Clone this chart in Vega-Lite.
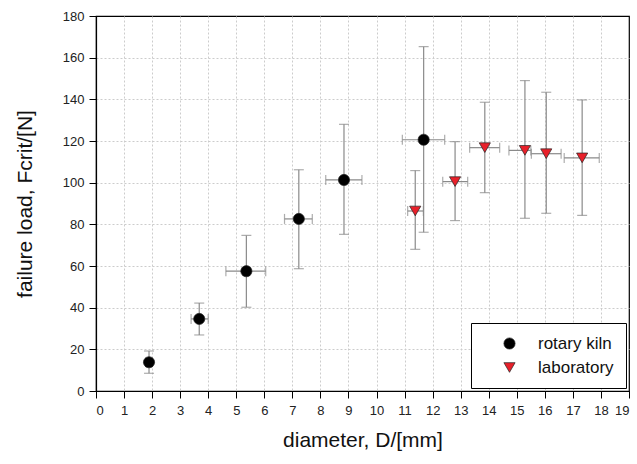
{
  "$schema": "https://vega.github.io/schema/vega-lite/v6.json",
  "autosize": {"type": "none"},
  "padding": {"left": 96, "top": 16, "right": 8, "bottom": 73},
  "width": 533,
  "height": 375,
  "background": "white",
  "config": {
    "view": {"stroke": "black", "strokeWidth": 1.2},
    "font": "Liberation Sans",
    "axis": {
      "labelFont": "Liberation Sans",
      "titleFont": "Liberation Sans",
      "labelFontSize": 13,
      "labelColor": "#222",
      "titleColor": "#111",
      "titleFontWeight": "normal",
      "titleFontSize": 21,
      "domainColor": "black",
      "domainWidth": 1.2,
      "tickColor": "black",
      "tickSize": 7,
      "gridColor": "#cccccc",
      "gridDash": [2, 2],
      "gridWidth": 1
    },
    "legend": {
      "labelFont": "Liberation Sans",
      "labelFontSize": 17,
      "labelColor": "#111"
    }
  },
  "data": {
    "values": [
      {"group": "rotary kiln", "D": 1.89, "F": 13.8, "Dlo": 1.78, "Dhi": 2.0, "Flo": 8.5, "Fhi": 19.2},
      {"group": "rotary kiln", "D": 3.68, "F": 34.6, "Dlo": 3.39, "Dhi": 4.0, "Flo": 26.9, "Fhi": 42.2},
      {"group": "rotary kiln", "D": 5.36, "F": 57.5, "Dlo": 4.63, "Dhi": 6.05, "Flo": 40.2, "Fhi": 74.7},
      {"group": "rotary kiln", "D": 7.23, "F": 82.6, "Dlo": 6.72, "Dhi": 7.71, "Flo": 58.7, "Fhi": 106.2},
      {"group": "rotary kiln", "D": 8.84, "F": 101.3, "Dlo": 8.19, "Dhi": 9.48, "Flo": 75.2, "Fhi": 128},
      {"group": "rotary kiln", "D": 11.68, "F": 120.6, "Dlo": 10.92, "Dhi": 12.43, "Flo": 76.2, "Fhi": 165.3},
      {"group": "laboratory", "D": 11.38, "F": 86.4, "Dlo": 11.11, "Dhi": 11.67, "Flo": 68, "Fhi": 105.8},
      {"group": "laboratory", "D": 12.8, "F": 100.5, "Dlo": 12.36, "Dhi": 13.25, "Flo": 81.8, "Fhi": 119.7},
      {"group": "laboratory", "D": 13.86, "F": 116.8, "Dlo": 13.32, "Dhi": 14.39, "Flo": 95.2, "Fhi": 138.6},
      {"group": "laboratory", "D": 15.29, "F": 115.5, "Dlo": 14.72, "Dhi": 15.5, "Flo": 82.9, "Fhi": 149},
      {"group": "laboratory", "D": 16.05, "F": 113.9, "Dlo": 15.52, "Dhi": 16.58, "Flo": 85.3, "Fhi": 143.4},
      {"group": "laboratory", "D": 17.33, "F": 111.9, "Dlo": 16.69, "Dhi": 17.94, "Flo": 84.3, "Fhi": 139.7}
    ]
  },
  "encoding": {
    "x": {
      "field": "D", "type": "quantitative",
      "scale": {"domain": [0, 19], "nice": false, "zero": false},
      "axis": {
        "title": "diameter, D/[mm]",
        "values": [0,1,2,3,4,5,6,7,8,9,10,11,12,13,14,15,16,17,18,19],
        "labelPadding": 6,
        "titlePadding": 12,
        "grid": true,
        "gridOpacity": {"condition": {"test": "datum.value <= 0 || datum.value >= 19", "value": 0}, "value": 1}
      }
    },
    "y": {
      "field": "F", "type": "quantitative",
      "scale": {"domain": [0, 180], "nice": false},
      "axis": {
        "title": "failure load, Fcrit/[N]",
        "values": [0,20,40,60,80,100,120,140,160,180],
        "labelPadding": 5,
        "titlePadding": 27,
        "grid": true,
        "gridOpacity": {"condition": {"test": "datum.value <= 0 || datum.value >= 180", "value": 0}, "value": 1}
      }
    }
  },
  "layer": [
    {
      "mark": {"type": "rule", "color": "#8a8a8a", "strokeWidth": 1.2},
      "encoding": {"y": {"field": "Flo", "type": "quantitative"}, "y2": {"field": "Fhi"}}
    },
    {
      "mark": {"type": "rule", "color": "#8a8a8a", "strokeWidth": 1.2},
      "encoding": {"x": {"field": "Dlo", "type": "quantitative"}, "x2": {"field": "Dhi"}}
    },
    {
      "mark": {"type": "tick", "orient": "horizontal", "color": "#8a8a8a", "size": 10, "thickness": 1.2},
      "encoding": {"y": {"field": "Flo", "type": "quantitative"}}
    },
    {
      "mark": {"type": "tick", "orient": "horizontal", "color": "#8a8a8a", "size": 10, "thickness": 1.2},
      "encoding": {"y": {"field": "Fhi", "type": "quantitative"}}
    },
    {
      "mark": {"type": "tick", "orient": "vertical", "color": "#8a8a8a", "size": 10, "thickness": 1.2},
      "encoding": {"x": {"field": "Dlo", "type": "quantitative"}}
    },
    {
      "mark": {"type": "tick", "orient": "vertical", "color": "#8a8a8a", "size": 10, "thickness": 1.2},
      "encoding": {"x": {"field": "Dhi", "type": "quantitative"}}
    },
    {
      "mark": {"type": "point", "filled": true, "opacity": 1, "size": 125, "stroke": "#222", "strokeWidth": 0.7},
      "encoding": {
        "fill": {
          "field": "group", "type": "nominal",
          "scale": {"domain": ["rotary kiln", "laboratory"], "range": ["#000000", "#e8202a"]},
          "legend": {
            "title": null,
            "orient": "bottom-right",
            "offset": 3,
            "padding": 12,
            "strokeColor": "black",
            "fillColor": "white",
            "symbolSize": 125,
            "symbolOffset": 18,
            "labelOffset": 20,
            "rowPadding": 6,
            "symbolStrokeColor": "#222",
            "symbolStrokeWidth": 0.7
          }
        },
        "shape": {
          "field": "group", "type": "nominal",
          "scale": {"domain": ["rotary kiln", "laboratory"], "range": ["circle", "triangle-down"]}
        }
      }
    }
  ]
}
